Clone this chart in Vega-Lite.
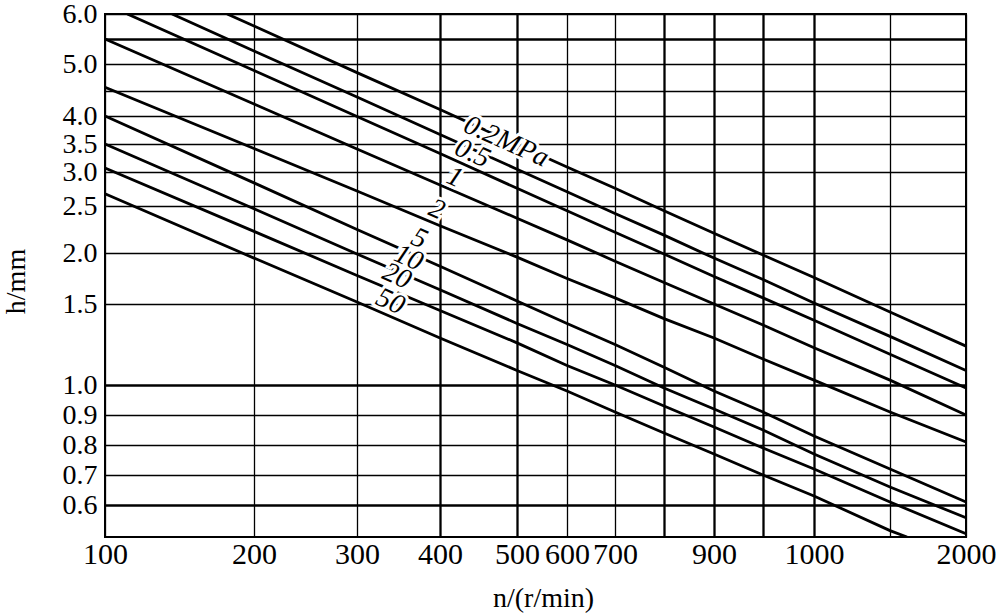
{
  "$schema": "https://vega.github.io/schema/vega-lite/v6.json",
  "width": 861,
  "height": 523,
  "autosize": "none",
  "padding": {"left": 105, "top": 14, "right": 39, "bottom": 79},
  "background": "white",
  "config": {
    "view": {"stroke": "black", "strokeWidth": 2},
    "font": "Liberation Serif"
  },
  "datasets": {
    "curves": [
      {"curve": 1, "n": 182, "h": 6.0}, {"curve": 1, "n": 200, "h": 5.76}, {"curve": 1, "n": 300, "h": 4.84}, {"curve": 1, "n": 400, "h": 4.13}, {"curve": 1, "n": 500, "h": 3.49}, {"curve": 1, "n": 600, "h": 3.09}, {"curve": 1, "n": 700, "h": 2.76}, {"curve": 1, "n": 800, "h": 2.45}, {"curve": 1, "n": 900, "h": 2.21}, {"curve": 1, "n": 950, "h": 1.98}, {"curve": 1, "n": 1000, "h": 1.76}, {"curve": 1, "n": 1500, "h": 1.45}, {"curve": 1, "n": 2000, "h": 1.24},
      {"curve": 2, "n": 145, "h": 6.0}, {"curve": 2, "n": 200, "h": 5.26}, {"curve": 2, "n": 300, "h": 4.38}, {"curve": 2, "n": 400, "h": 3.67}, {"curve": 2, "n": 500, "h": 3.05}, {"curve": 2, "n": 600, "h": 2.71}, {"curve": 2, "n": 700, "h": 2.42}, {"curve": 2, "n": 800, "h": 2.19}, {"curve": 2, "n": 900, "h": 1.95}, {"curve": 2, "n": 950, "h": 1.74}, {"curve": 2, "n": 1000, "h": 1.51}, {"curve": 2, "n": 1500, "h": 1.30}, {"curve": 2, "n": 2000, "h": 1.09},
      {"curve": 3, "n": 115, "h": 6.0}, {"curve": 3, "n": 200, "h": 4.88}, {"curve": 3, "n": 300, "h": 3.99}, {"curve": 3, "n": 400, "h": 3.33}, {"curve": 3, "n": 500, "h": 2.76}, {"curve": 3, "n": 600, "h": 2.45}, {"curve": 3, "n": 700, "h": 2.22}, {"curve": 3, "n": 800, "h": 1.99}, {"curve": 3, "n": 900, "h": 1.77}, {"curve": 3, "n": 950, "h": 1.56}, {"curve": 3, "n": 1000, "h": 1.40}, {"curve": 3, "n": 1500, "h": 1.19}, {"curve": 3, "n": 2000, "h": 0.99},
      {"curve": 4, "n": 100, "h": 5.5}, {"curve": 4, "n": 200, "h": 4.24}, {"curve": 4, "n": 300, "h": 3.41}, {"curve": 4, "n": 400, "h": 2.81}, {"curve": 4, "n": 500, "h": 2.37}, {"curve": 4, "n": 600, "h": 2.14}, {"curve": 4, "n": 700, "h": 1.92}, {"curve": 4, "n": 800, "h": 1.71}, {"curve": 4, "n": 900, "h": 1.50}, {"curve": 4, "n": 950, "h": 1.37}, {"curve": 4, "n": 1000, "h": 1.23}, {"curve": 4, "n": 1500, "h": 1.03}, {"curve": 4, "n": 2000, "h": 0.90},
      {"curve": 5, "n": 100, "h": 4.57}, {"curve": 5, "n": 200, "h": 3.42}, {"curve": 5, "n": 300, "h": 2.72}, {"curve": 5, "n": 400, "h": 2.29}, {"curve": 5, "n": 500, "h": 1.96}, {"curve": 5, "n": 600, "h": 1.75}, {"curve": 5, "n": 700, "h": 1.56}, {"curve": 5, "n": 800, "h": 1.41}, {"curve": 5, "n": 900, "h": 1.29}, {"curve": 5, "n": 950, "h": 1.16}, {"curve": 5, "n": 1000, "h": 1.03}, {"curve": 5, "n": 1500, "h": 0.91}, {"curve": 5, "n": 2000, "h": 0.81},
      {"curve": 6, "n": 100, "h": 4.0}, {"curve": 6, "n": 200, "h": 2.84}, {"curve": 6, "n": 300, "h": 2.25}, {"curve": 6, "n": 400, "h": 1.87}, {"curve": 6, "n": 500, "h": 1.53}, {"curve": 6, "n": 600, "h": 1.38}, {"curve": 6, "n": 700, "h": 1.25}, {"curve": 6, "n": 800, "h": 1.11}, {"curve": 6, "n": 900, "h": 0.98}, {"curve": 6, "n": 950, "h": 0.91}, {"curve": 6, "n": 1000, "h": 0.83}, {"curve": 6, "n": 1500, "h": 0.72}, {"curve": 6, "n": 2000, "h": 0.61},
      {"curve": 7, "n": 100, "h": 3.5}, {"curve": 7, "n": 200, "h": 2.47}, {"curve": 7, "n": 300, "h": 1.99}, {"curve": 7, "n": 400, "h": 1.64}, {"curve": 7, "n": 500, "h": 1.38}, {"curve": 7, "n": 600, "h": 1.25}, {"curve": 7, "n": 700, "h": 1.12}, {"curve": 7, "n": 800, "h": 0.99}, {"curve": 7, "n": 900, "h": 0.92}, {"curve": 7, "n": 950, "h": 0.85}, {"curve": 7, "n": 1000, "h": 0.77}, {"curve": 7, "n": 1500, "h": 0.66}, {"curve": 7, "n": 2000, "h": 0.56},
      {"curve": 8, "n": 100, "h": 3.07}, {"curve": 8, "n": 200, "h": 2.23}, {"curve": 8, "n": 300, "h": 1.78}, {"curve": 8, "n": 400, "h": 1.46}, {"curve": 8, "n": 500, "h": 1.26}, {"curve": 8, "n": 600, "h": 1.12}, {"curve": 8, "n": 700, "h": 1.00}, {"curve": 8, "n": 800, "h": 0.93}, {"curve": 8, "n": 900, "h": 0.86}, {"curve": 8, "n": 950, "h": 0.79}, {"curve": 8, "n": 1000, "h": 0.72}, {"curve": 8, "n": 1500, "h": 0.61}, {"curve": 8, "n": 2000, "h": 0.51},
      {"curve": 9, "n": 100, "h": 2.68}, {"curve": 9, "n": 200, "h": 1.95}, {"curve": 9, "n": 300, "h": 1.52}, {"curve": 9, "n": 400, "h": 1.29}, {"curve": 9, "n": 500, "h": 1.09}, {"curve": 9, "n": 600, "h": 0.98}, {"curve": 9, "n": 700, "h": 0.91}, {"curve": 9, "n": 800, "h": 0.84}, {"curve": 9, "n": 900, "h": 0.77}, {"curve": 9, "n": 950, "h": 0.70}, {"curve": 9, "n": 1000, "h": 0.63}, {"curve": 9, "n": 1500, "h": 0.52}, {"curve": 9, "n": 1612, "h": 0.5}
    ],
    "labels": [
      {"text": "0.2MPa", "n": 486, "h": 3.54},
      {"text": "0.5", "n": 442, "h": 3.33},
      {"text": "1", "n": 419, "h": 2.92},
      {"text": "2", "n": 396, "h": 2.46},
      {"text": "5", "n": 375, "h": 2.15},
      {"text": "10", "n": 362, "h": 1.95},
      {"text": "20", "n": 348, "h": 1.77},
      {"text": "50", "n": 340, "h": 1.52}
    ]
  },
  "encoding": {
    "x": {
      "field": "n",
      "type": "quantitative",
      "scale": {
        "type": "linear",
        "domain": [100, 200, 300, 400, 500, 600, 700, 800, 900, 950, 1000, 1500, 2000],
        "range": [0, 149, 252, 335, 412, 462, 510, 559, 609, 658, 709, 785, 861],
        "nice": false,
        "zero": false
      },
      "axis": {
        "values": [100, 200, 300, 400, 500, 600, 700, 800, 900, 950, 1000, 1500, 2000],
        "format": "d",
        "labelExpr": "indexof([800, 950, 1500], datum.value) >= 0 ? '' : datum.label",
        "grid": true,
        "gridColor": "black",
        "gridOpacity": 1,
        "gridWidth": {"condition": {"test": "indexof([400, 500, 800, 900, 950, 1000], datum.value) >= 0", "value": 2.3}, "value": 1.3},
        "ticks": false,
        "tickSize": 0,
        "domain": false,
        "labelFont": "Liberation Serif",
        "labelFontSize": 30,
        "labelColor": "black",
        "labelPadding": 2,
        "labelFlush": false,
        "labelOverlap": false,
        "title": "n/(r/min)",
        "titleFont": "Liberation Serif",
        "titleFontSize": 28,
        "titleFontWeight": "normal",
        "titleColor": "black",
        "titleX": 438,
        "titleY": 69,
        "titleBaseline": "alphabetic"
      }
    },
    "y": {
      "field": "h",
      "type": "quantitative",
      "scale": {
        "type": "linear",
        "domain": [0.5, 0.6, 0.7, 0.8, 0.9, 1.0, 1.5, 2.0, 2.5, 3.0, 3.5, 4.0, 4.5, 5.0, 5.5, 6.0],
        "range": [523, 491, 461, 431, 401, 371, 290, 239, 192, 158, 130, 102, 77, 50, 25, 0],
        "nice": false,
        "zero": false
      },
      "axis": {
        "values": [0.6, 0.7, 0.8, 0.9, 1.0, 1.5, 2.0, 2.5, 3.0, 3.5, 4.0, 4.5, 5.0, 5.5, 6.0],
        "format": ".1f",
        "labelExpr": "indexof([4.5, 5.5], datum.value) >= 0 ? '' : datum.label",
        "grid": true,
        "gridColor": "black",
        "gridOpacity": 1,
        "gridWidth": {"condition": {"test": "indexof([5.5, 1, 0.6], datum.value) >= 0", "value": 2.3}, "value": 1.3},
        "ticks": false,
        "tickSize": 0,
        "domain": false,
        "labelFont": "Liberation Serif",
        "labelFontSize": 28,
        "labelColor": "black",
        "labelPadding": 8,
        "labelFlush": false,
        "labelOverlap": false,
        "title": "h/mm",
        "titleFont": "Liberation Serif",
        "titleFontSize": 28,
        "titleFontWeight": "normal",
        "titleColor": "black",
        "titleX": -89,
        "titleY": 267,
        "titleAngle": -90,
        "titleAlign": "center",
        "titleBaseline": "middle"
      }
    }
  },
  "layer": [
    {
      "data": {"name": "curves"},
      "mark": {"type": "line", "color": "black", "strokeWidth": 2.8, "clip": true},
      "encoding": {"detail": {"field": "curve", "type": "nominal"}}
    },
    {
      "data": {"name": "labels"},
      "mark": {"type": "text", "angle": 24, "fontSize": 28, "fontStyle": "italic", "font": "Liberation Serif", "align": "center", "baseline": "middle", "stroke": "white", "strokeWidth": 6, "fill": "white"},
      "encoding": {"text": {"field": "text"}}
    },
    {
      "data": {"name": "labels"},
      "mark": {"type": "text", "angle": 24, "fontSize": 28, "fontStyle": "italic", "font": "Liberation Serif", "align": "center", "baseline": "middle", "fill": "black"},
      "encoding": {"text": {"field": "text"}}
    }
  ]
}
